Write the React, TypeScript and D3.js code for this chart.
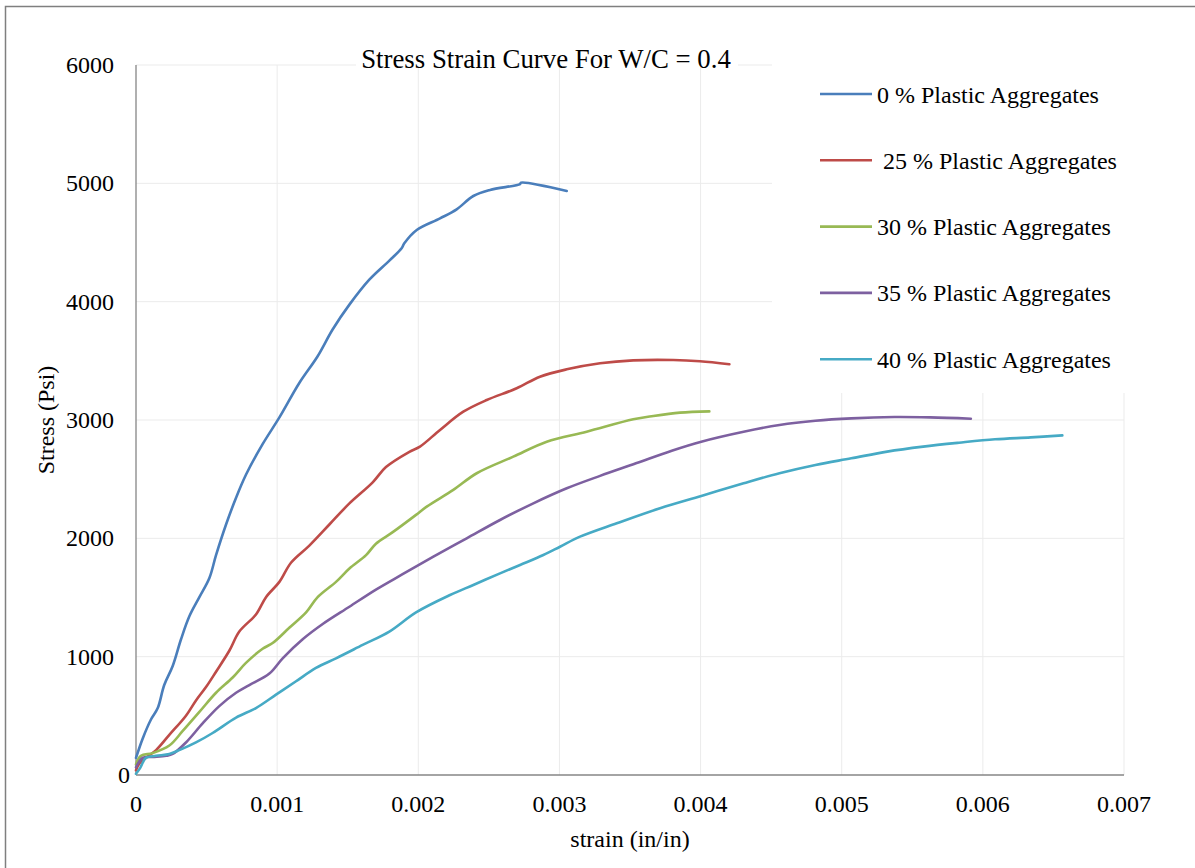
import React, { useEffect, useRef } from "react";
import * as d3 from "d3";

// strain (in/in) / stress (psi)
const strain0 = [0, 0.000047, 0.000106, 0.000154, 0.0002, 0.00026, 0.000319, 0.000378, 0.000449, 0.00052, 0.000567, 0.000638, 0.000709, 0.000779, 0.000897, 0.001016, 0.001157, 0.001287, 0.001393, 0.001512, 0.001653, 0.001795, 0.001882, 0.001901, 0.001989, 0.002154, 0.002272, 0.00239, 0.002508, 0.002721, 0.002728, 0.003052];
const stress0 = [145, 307, 469, 566, 760, 921, 1147, 1341, 1503, 1665, 1858, 2117, 2343, 2537, 2796, 3022, 3313, 3539, 3765, 3975, 4186, 4347, 4451, 4493, 4606, 4704, 4780, 4893, 4944, 4994, 5006, 4935];

const strain25 = [0, 0.000024, 0.00007, 0.000142, 0.000236, 0.000354, 0.000425, 0.000496, 0.000567, 0.000661, 0.000732, 0.00085, 0.000921, 0.001016, 0.001098, 0.001228, 0.00137, 0.001512, 0.001677, 0.001771, 0.001937, 0.002012, 0.002154, 0.002319, 0.002485, 0.002697, 0.002862, 0.003052, 0.003288, 0.003523, 0.003807, 0.003996, 0.004204];
const stress25 = [40, 97, 145, 210, 339, 501, 630, 743, 873, 1050, 1212, 1357, 1503, 1632, 1794, 1939, 2117, 2295, 2473, 2602, 2731, 2775, 2916, 3070, 3169, 3268, 3366, 3428, 3479, 3504, 3507, 3496, 3471];

const strain30 = [0, 0.000035, 0.000118, 0.000236, 0.000331, 0.000449, 0.000567, 0.000685, 0.000779, 0.000897, 0.000968, 0.001086, 0.001205, 0.001287, 0.001417, 0.001512, 0.00163, 0.0017, 0.001819, 0.001984, 0.00206, 0.002248, 0.002414, 0.002673, 0.00291, 0.003193, 0.003523, 0.003665, 0.003854, 0.004062];
const stress30 = [90, 162, 185, 249, 372, 533, 695, 824, 947, 1067, 1115, 1244, 1374, 1503, 1632, 1745, 1858, 1955, 2052, 2198, 2268, 2409, 2550, 2690, 2817, 2901, 3006, 3034, 3062, 3073];

const strain35 = [0, 0.000047, 0.000118, 0.000213, 0.00026, 0.000354, 0.000472, 0.00059, 0.000709, 0.000803, 0.000945, 0.001039, 0.001181, 0.001323, 0.001512, 0.0017, 0.001889, 0.002107, 0.002343, 0.002579, 0.002815, 0.003052, 0.003288, 0.003542, 0.003796, 0.004005, 0.004305, 0.004559, 0.004814, 0.005068, 0.005373, 0.005627, 0.005915];
const stress35 = [65, 145, 152, 162, 178, 275, 436, 582, 695, 760, 857, 986, 1147, 1276, 1422, 1567, 1697, 1845, 2000, 2155, 2296, 2423, 2528, 2634, 2741, 2817, 2901, 2958, 2994, 3014, 3025, 3022, 3011];

const strain40 = [0, 0.00003, 0.00007, 0.000142, 0.000236, 0.000307, 0.000425, 0.000543, 0.000709, 0.00085, 0.000992, 0.001134, 0.001275, 0.001417, 0.001606, 0.001795, 0.001984, 0.002225, 0.00239, 0.002579, 0.002721, 0.002886, 0.003004, 0.003146, 0.003406, 0.003713, 0.004005, 0.004305, 0.004559, 0.004814, 0.005068, 0.005322, 0.005577, 0.005831, 0.006086, 0.006339, 0.006563];
const stress40 = [10, 60, 145, 162, 178, 210, 275, 355, 485, 566, 679, 792, 905, 986, 1099, 1212, 1374, 1521, 1606, 1704, 1775, 1859, 1929, 2014, 2127, 2254, 2358, 2465, 2550, 2620, 2676, 2733, 2775, 2808, 2837, 2853, 2870];

const seriesNames = ["0 % Plastic Aggregates", " 25 % Plastic Aggregates", "30 % Plastic Aggregates", "35 % Plastic Aggregates", "40 % Plastic Aggregates"];
const seriesColors = ["#4A7EBB", "#BE4B48", "#98B954", "#7D60A0", "#46AAC5"];
const xTicks = [0, 0.001, 0.002, 0.003, 0.004, 0.005, 0.006, 0.007];
const yTicks = [0, 1000, 2000, 3000, 4000, 5000, 6000];

const strains = [strain0, strain25, strain30, strain35, strain40];
const stresses = [stress0, stress25, stress30, stress35, stress40];

const FONT = "'Liberation Serif', 'Times New Roman', serif";

const drawChart = (svgEl: SVGSVGElement) => {
	const width = 1195,
		height = 868;
	const svg = d3.select(svgEl).attr("width", width).attr("height", height);
	svg.selectAll("*").remove();

	svg.append("rect").attr("width", width).attr("height", height).attr("fill", "white");

	const x = d3.scaleLinear().domain([0, 0.007]).range([136, 1124]);
	const y = d3.scaleLinear().domain([0, 6000]).range([775, 65]);

	// gridlines
	const grid = svg.append("g").attr("stroke", "#ebebeb").attr("stroke-width", 1);
	grid
		.selectAll("line.h")
		.data(yTicks.slice(1))
		.enter()
		.append("line")
		.attr("x1", x(0))
		.attr("x2", x(0.007))
		.attr("y1", (d) => y(d))
		.attr("y2", (d) => y(d));
	grid
		.selectAll("line.v")
		.data(xTicks.slice(1))
		.enter()
		.append("line")
		.attr("x1", (d) => x(d))
		.attr("x2", (d) => x(d))
		.attr("y1", y(6000))
		.attr("y2", y(0));

	// axes lines
	svg.append("line").attr("x1", x(0)).attr("x2", x(0)).attr("y1", y(6000)).attr("y2", y(0)).attr("stroke", "#868686").attr("stroke-width", 1.3);
	svg.append("line").attr("x1", x(0)).attr("x2", x(0.007)).attr("y1", y(0)).attr("y2", y(0)).attr("stroke", "#868686").attr("stroke-width", 1.3);

	// tick labels
	svg
		.append("g")
		.selectAll("text")
		.data(yTicks)
		.enter()
		.append("text")
		.attr("x", (d) => (d === 0 ? 130 : 114))
		.attr("y", (d) => y(d) + 8)
		.attr("text-anchor", "end")
		.attr("font-family", FONT)
		.attr("font-size", 24)
		.attr("fill", "#000")
		.text((d) => d);
	svg
		.append("g")
		.selectAll("text")
		.data(xTicks)
		.enter()
		.append("text")
		.attr("x", (d) => x(d))
		.attr("y", 812)
		.attr("text-anchor", "middle")
		.attr("font-family", FONT)
		.attr("font-size", 24)
		.attr("fill", "#000")
		.text((d) => (d === 0 ? "0" : d3.format(".3f")(d)));

	// curves
	const line = d3
		.line<[number, number]>()
		.x((d) => x(d[0]))
		.y((d) => y(d[1]))
		.curve(d3.curveCatmullRom.alpha(0.5));

	strains.forEach((s, i) => {
		const pts: [number, number][] = s.map((v, j) => [v, stresses[i][j]]);
		svg
			.append("path")
			.attr("d", line(pts))
			.attr("fill", "none")
			.attr("stroke", seriesColors[i])
			.attr("stroke-width", 2.6)
			.attr("stroke-linejoin", "round")
			.attr("stroke-linecap", "round");
	});

	// title box
	svg.append("rect").attr("x", 356).attr("y", 40).attr("width", 382).attr("height", 27).attr("fill", "white");
	svg
		.append("text")
		.attr("x", 546)
		.attr("y", 68)
		.attr("text-anchor", "middle")
		.attr("font-family", FONT)
		.attr("font-size", 26.8)
		.attr("fill", "#000")
		.text("Stress Strain Curve For W/C = 0.4");

	// legend
	const legend = svg.append("g");
	legend.append("rect").attr("x", 772).attr("y", 50).attr("width", 430).attr("height", 343).attr("fill", "white");
	const items = legend
		.selectAll("g.item")
		.data(seriesNames)
		.enter()
		.append("g")
		.attr("transform", (d, i) => `translate(0, ${94 + i * 66.3})`);
	items
		.append("line")
		.attr("x1", 820)
		.attr("x2", 872)
		.attr("stroke", (d, i) => seriesColors[i])
		.attr("stroke-width", 2.6);
	items
		.append("text")
		.attr("x", 877)
		.attr("y", 8.5)
		.attr("font-family", FONT)
		.attr("font-size", 24)
		.attr("fill", "#000")
		.attr("xml:space", "preserve")
		.style("white-space", "pre")
		.text((d) => d);

	// axis titles
	svg
		.append("text")
		.attr("transform", "translate(54, 420) rotate(-90)")
		.attr("text-anchor", "middle")
		.attr("font-family", FONT)
		.attr("font-size", 24)
		.attr("fill", "#000")
		.text("Stress (Psi)");
	svg
		.append("text")
		.attr("x", 630)
		.attr("y", 847)
		.attr("text-anchor", "middle")
		.attr("font-family", FONT)
		.attr("font-size", 24)
		.attr("fill", "#000")
		.text("strain (in/in)");

	// outer frame
	svg
		.append("path")
		.attr("d", `M5.5,${height + 5} L5.5,6.5 L${width + 5},6.5`)
		.attr("fill", "none")
		.attr("stroke", "#7f7f7f")
		.attr("stroke-width", 1.5);
};

const App = () => {
	const svgRef = useRef<SVGSVGElement>(null);

	useEffect(() => {
		if (svgRef.current) drawChart(svgRef.current);
	}, []);

	return (
		<div style={{ position: "absolute", left: 0, top: 0 }}>
			<svg ref={svgRef} style={{ display: "block" }} />
		</div>
	);
};

export default App;
